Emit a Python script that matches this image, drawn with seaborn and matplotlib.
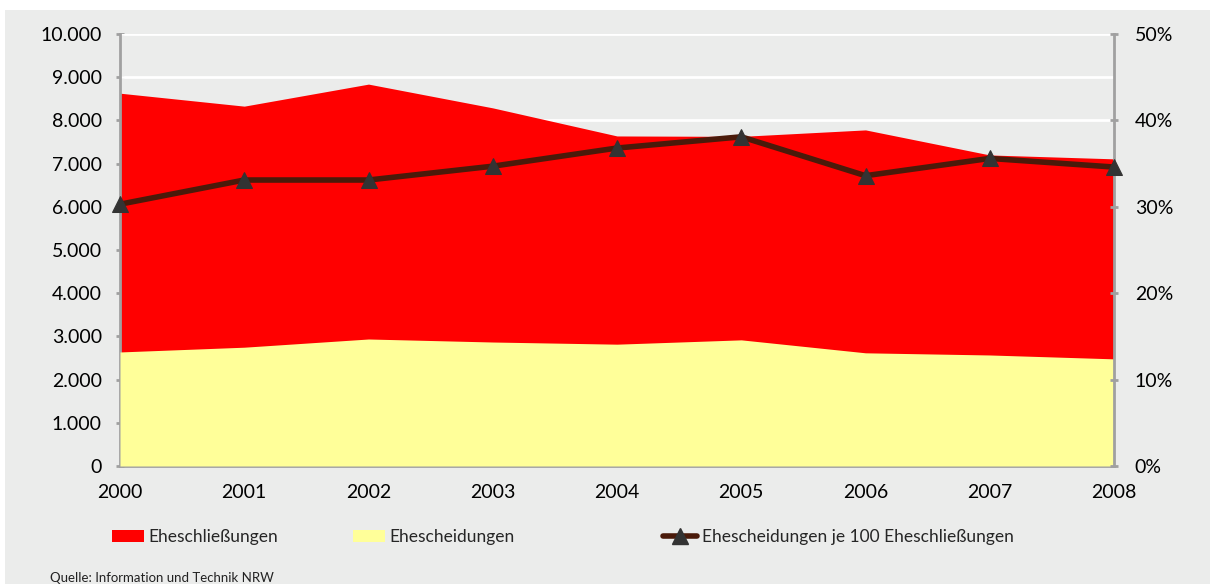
import matplotlib
matplotlib.use("Agg")
import matplotlib.pyplot as plt
import seaborn as sns
import pandas as pd
from matplotlib.patches import Rectangle, Patch
from matplotlib.lines import Line2D
from matplotlib.ticker import FuncFormatter

years = [2000, 2001, 2002, 2003, 2004, 2005, 2006, 2007, 2008]
eheschliessungen = [8630, 8330, 8840, 8290, 7640, 7630, 7780, 7200, 7110]
ehescheidungen = [2640, 2750, 2940, 2870, 2820, 2920, 2620, 2570, 2480]
quote = [30.3, 33.1, 33.1, 34.7, 36.8, 38.1, 33.6, 35.6, 34.6]

sns.set_theme(style="white")
plt.rcParams['font.family'] = ['Lato', 'DejaVu Sans']

df = pd.DataFrame({"Jahr": years, "Quote": quote})

W, H = 1210, 584
fig = plt.figure(figsize=(W / 100, H / 100), dpi=100)
fig.patch.set_facecolor("white")
bg = "#ebeceb"
fig.add_artist(Rectangle((5 / W, 0), 1 - 5 / W, 1 - 10 / H, transform=fig.transFigure,
                         facecolor=bg, edgecolor="none", zorder=-10))

left, right, top, bottom = 120, 1114, 34, 466
ax = fig.add_axes([left / W, 1 - bottom / H, (right - left) / W, (bottom - top) / H])
ax.set_facecolor(bg)

ax.fill_between(years, 0, eheschliessungen, color="#ff0000", linewidth=0, zorder=2)
ax.fill_between(years, 0, ehescheidungen, color="#ffff99", linewidth=0, zorder=3)
for v in range(1000, 10001, 1000):
    ax.axhline(v, color="white", linewidth=2, zorder=1)

ax.set_xlim(2000, 2008)
ax.set_ylim(0, 10000)
ax.set_yticks(range(0, 10001, 1000))
ax.yaxis.set_major_formatter(FuncFormatter(lambda v, p: f"{int(v):,}".replace(",", ".")))
ax.set_xticks(years)
ax.set_xticklabels([str(y) for y in years])

spine_c = "#a0a0a0"
for s in ["top", "right"]:
    ax.spines[s].set_visible(False)
for s in ["left", "bottom"]:
    ax.spines[s].set_color(spine_c)
    ax.spines[s].set_linewidth(2)
ax.tick_params(axis="both", colors=spine_c, labelcolor="black", labelsize=14,
               length=6, width=2, direction="inout")
ax.tick_params(axis="x", pad=10)
ax.tick_params(axis="y", pad=10)
ax.set_xlabel("")
ax.set_ylabel("")

ax2 = ax.twinx()
sns.lineplot(data=df, x="Jahr", y="Quote", ax=ax2, color="#4a1a0a", linewidth=4,
             marker="^", markersize=11, markerfacecolor="#333333",
             markeredgecolor="#333333", zorder=5, clip_on=False)
ax2.set_ylim(0, 50)
ax2.set_yticks(range(0, 51, 10))
ax2.yaxis.set_major_formatter(FuncFormatter(lambda v, p: f"{int(v)}%"))
ax2.set_xlim(2000, 2008)
for s in ["top", "left", "bottom"]:
    ax2.spines[s].set_visible(False)
ax2.spines["right"].set_color(spine_c)
ax2.spines["right"].set_linewidth(2)
ax2.tick_params(axis="y", colors=spine_c, labelcolor="black", labelsize=14,
                length=6, width=2, direction="inout", pad=12)
ax2.set_xlabel("")
ax2.set_ylabel("")
ax2.grid(False)
ax.set_zorder(ax2.get_zorder() - 1)
ax2.patch.set_visible(False)
ax.patch.set_visible(True)

handles = [
    Patch(facecolor="#ff0000", edgecolor="none", label="Eheschließungen"),
    Patch(facecolor="#ffff99", edgecolor="none", label="Ehescheidungen"),
    Line2D([0], [0], color="#4a1a0a", linewidth=4, marker="^", markersize=11,
           markerfacecolor="#333333", markeredgecolor="#333333",
           label="Ehescheidungen je 100 Eheschließungen"),
]
# handle left edges in pixels: 112, 353, 663 ; offset of handle from anchor ~16 px
for h, hx, hl in zip(handles, [112, 353, 663], [1.85, 1.85, 2.0]):
    fig.legend(handles=[h], loc="center left", frameon=False,
               bbox_to_anchor=((hx - 16) / W, 1 - 537 / H), fontsize=12.5,
               handlelength=hl, handleheight=0.75, handletextpad=0.25)

fig.text(50 / W, 1 - 578 / H, "Quelle: Information und Technik NRW", fontsize=9.5,
         va="center", ha="left", color="#222222")

fig.savefig("out.png", dpi=100, facecolor=fig.get_facecolor())
